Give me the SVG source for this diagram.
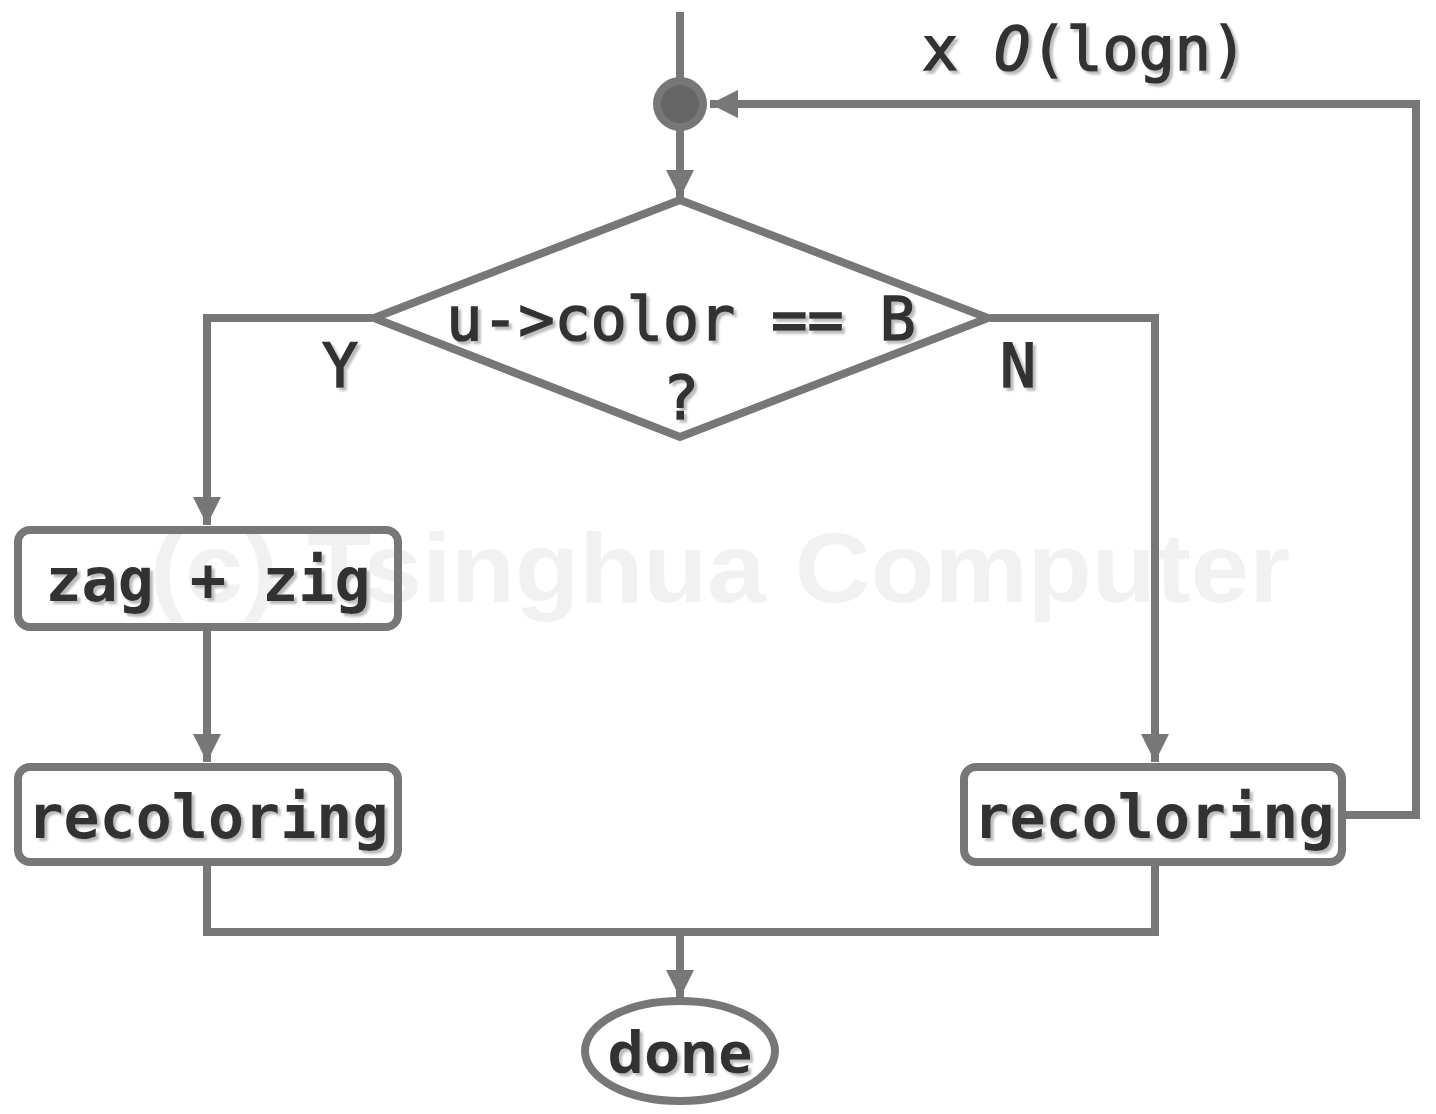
<svg xmlns="http://www.w3.org/2000/svg" width="1436" height="1114" viewBox="0 0 1436 1114">
<style>
.ln{fill:none;stroke:#777;stroke-width:8;stroke-linejoin:miter}
.bx{fill:none;stroke:#777;stroke-width:8}
.t{font-family:"DejaVu Sans Mono","Liberation Mono",monospace;font-size:60px;fill:#333;filter:url(#sh)}
.m{stroke:#333;stroke-width:1.6}
.b{font-weight:bold}
.wm{font-family:"Liberation Sans",Arial,sans-serif;font-weight:bold;font-size:98px;fill:#f1f1f1}
</style>
<defs>
<filter id="sh" x="-10%" y="-10%" width="130%" height="140%">
<feDropShadow dx="3" dy="3" stdDeviation="0.8" flood-color="#bbb" flood-opacity="1"/>
</filter>
<marker id="ar" markerUnits="userSpaceOnUse" markerWidth="30" markerHeight="30" viewBox="0 0 30 30" refX="28" refY="15" orient="auto">
<path d="M0,1 L28,15 L0,29 Z" fill="#777"/>
</marker>
</defs>
<rect width="1436" height="1114" fill="#fff"/>
<text class="wm" x="150" y="602" textLength="1140" lengthAdjust="spacingAndGlyphs">(c) Tsinghua Computer</text>
<g id="connectors">
<line class="ln" x1="680" y1="12" x2="680" y2="90"/>
<line class="ln" x1="680" y1="125" x2="680" y2="198" marker-end="url(#ar)"/>
<polyline class="ln" points="372,318 207,318 207,525" marker-end="url(#ar)"/>
<polyline class="ln" points="990,318 1155,318 1155,762" marker-end="url(#ar)"/>
<line class="ln" x1="207" y1="627" x2="207" y2="762" marker-end="url(#ar)"/>
<polyline class="ln" points="1342,815 1416,815 1416,104 710,104" marker-end="url(#ar)"/>
<polyline class="ln" points="207,862 207,932 1155,932 1155,862"/>
<line class="ln" x1="680" y1="932" x2="680" y2="998" marker-end="url(#ar)"/>
</g>
<g id="junction">
<circle cx="680" cy="104" r="23" fill="#666" stroke="#777" stroke-width="8"/>
</g>
<g id="cond">
<polygon class="bx" points="680,200 988,318 680,437 374,318"/>
<text class="t m" x="681" y="340" text-anchor="middle">u-&gt;color == B</text>
<text class="t m" x="681" y="419" text-anchor="middle">?</text>
</g>
<g id="labelY"><text class="t m" x="340" y="387" text-anchor="middle">Y</text></g>
<g id="labelN"><text class="t m" x="1018" y="387" text-anchor="middle">N</text></g>
<g id="loop"><text class="t m" x="922" y="70">x <tspan font-style="italic">O</tspan>(logn)</text></g>
<g id="zagzig">
<rect class="bx" x="18" y="530" width="380" height="97" rx="12"/>
<text class="t b" x="208" y="601" text-anchor="middle">zag + zig</text>
</g>
<g id="recolorL">
<rect class="bx" x="18" y="767" width="380" height="95" rx="12"/>
<text class="t b" x="208" y="838" text-anchor="middle">recoloring</text>
</g>
<g id="recolorR">
<rect class="bx" x="964" y="767" width="378" height="95" rx="12"/>
<text class="t b" x="1154" y="838" text-anchor="middle">recoloring</text>
</g>
<g id="done">
<ellipse class="bx" cx="680" cy="1051" rx="95" ry="50"/>
<text x="680" y="1073" text-anchor="middle" font-family="'Open Sans','Liberation Sans',sans-serif" font-weight="bold" font-size="58" fill="#333" filter="url(#sh)">done</text>
</g>
</svg>
